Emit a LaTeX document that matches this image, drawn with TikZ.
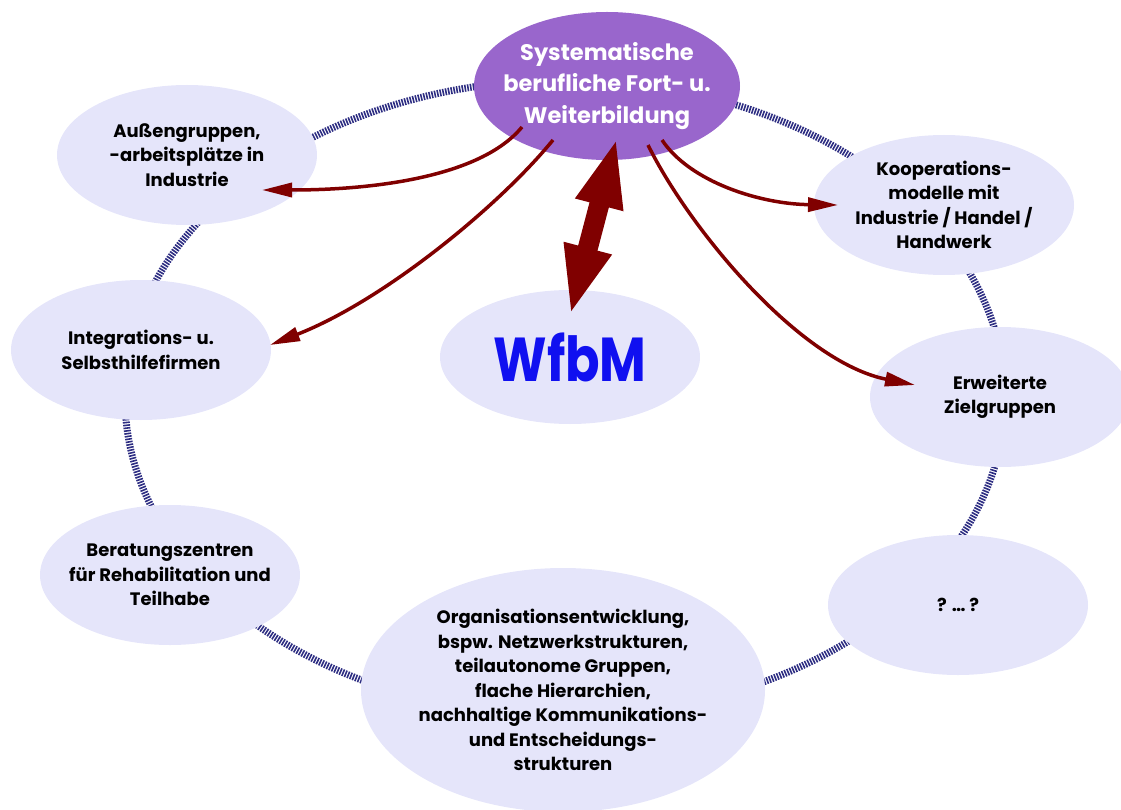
\documentclass[tikz,border=0pt]{standalone}
\usepackage{fontspec}
\usepackage{graphicx}
\setmainfont{Poppins}
\usetikzlibrary{shapes.geometric, arrows.meta, calc}

\definecolor{ringblue}{RGB}{45,45,130}
\definecolor{bubblefill}{RGB}{229,229,250}
\definecolor{topviolet}{RGB}{153,102,204}
\definecolor{arrowred}{RGB}{128,0,0}
\definecolor{wfbmblue}{RGB}{16,16,240}

\tikzset{
	bubble/.style={ellipse, fill=bubblefill, draw=none, inner xsep=-14pt, inner ysep=-8pt, align=center,
		minimum width=260pt, minimum height=140pt,
		font=\bfseries\fontsize{18}{24.5}\selectfont},
	topbubble/.style={bubble, fill=topviolet, text=white,
		minimum width=266pt, minimum height=148pt,
		font=\bfseries\fontsize{22.5}{31.5}\selectfont},
	ring/.style={draw=ringblue, line width=7pt, dash pattern=on 1.6pt off 1.2pt},
	flowarrow/.style={draw=arrowred, line width=3.5pt, -{Triangle[length=30pt, width=14pt]}},
	bigarrow/.style={draw=arrowred, line width=20pt,
		{Triangle[length=70pt, width=44pt]}-{Triangle[length=70pt, width=44pt]}}
}

\begin{document}
\begin{tikzpicture}[x=1pt, y=-1pt]
	\useasboundingbox (0,0) rectangle (1121,810);

	% ring behind the bubbles
	\draw[ring] (565,398) ellipse [x radius=440, y radius=318];

	\node[topbubble] (sys) at (607,86) {Systematische\\berufliche Fort- u.\\Weiterbildung};
	\node[bubble] (aussen) at (187,155) {Außengruppen,\\-arbeitsplätze in\\Industrie};
	\node[bubble] (koop) at (944,205) {Kooperations-\\modelle mit\\Industrie / Handel /\\Handwerk};
	\node[bubble] (integ) at (141,350) {Integrations- u.\\Selbsthilfefirmen};
	\node[bubble, minimum height=134pt] (wfbm) at (570,357)
		{\textcolor{wfbmblue}{\scalebox{0.82}[1]{\fontsize{62}{66}\selectfont WfbM}}};
	\node[bubble] (erw) at (1000,397) {Erweiterte\\Zielgruppen};
	\node[bubble] (berat) at (170,575) {Beratungszentren\\für Rehabilitation und\\Teilhabe};
	\node[bubble] (frage) at (958,605) {? \dots{} ?};
	\node[bubble, minimum width=404pt, minimum height=244pt] (orga) at (563,690)
		{Organisationsentwicklung,\\bspw. Netzwerkstrukturen,\\teilautonome Gruppen,\\flache Hierarchien,\\nachhaltige Kommunikations-\\und Entscheidungs-\\strukturen};

	% arrows out of the top bubble
	\draw[flowarrow] ($(sys)+(-85,41)$) .. controls (480,178) and (370,190) .. ($(aussen)+(75,35)$);
	\draw[flowarrow] ($(sys)+(-54,54)$) .. controls (500,205) and (385,300) .. ($(integ)+(129,-5)$);
	\draw[flowarrow] ($(sys)+(55,54)$) .. controls (690,182) and (760,204) .. ($(koop)+(-106,0)$);
	\draw[flowarrow] ($(sys)+(41,59)$) .. controls (690,230) and (800,362) .. ($(erw)+(-85,-12)$);
	\draw[bigarrow] ([xshift=10pt, yshift=23pt]sys.south) -- ([yshift=-26pt]wfbm.north);
\end{tikzpicture}
\end{document}
